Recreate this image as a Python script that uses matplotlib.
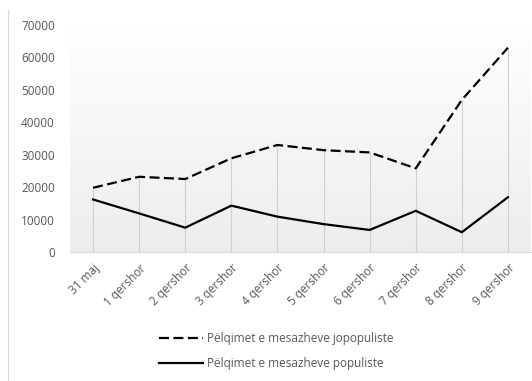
import numpy as np
import matplotlib
matplotlib.use("Agg")
import matplotlib.pyplot as plt
from matplotlib.lines import Line2D

plt.rcParams['font.family'] = ['Open Sans', 'DejaVu Sans']

dates = ["31 maj", "1 qershor", "2 qershor", "3 qershor", "4 qershor",
         "5 qershor", "6 qershor", "7 qershor", "8 qershor", "9 qershor"]
jopopuliste = [19800, 23200, 22500, 28900, 33000, 31400, 30700, 25800, 46900, 63000]
populiste = [16200, 11900, 7500, 14300, 10900, 8600, 6800, 12700, 6100, 16900]
yticks = [0, 10000, 20000, 30000, 40000, 50000, 60000, 70000]

label_jo = "Pëlqimet e mesazheve jopopuliste"
label_po = "Pëlqimet e mesazheve populiste"

fig = plt.figure(figsize=(5.32, 3.81), dpi=100)
ax = fig.add_axes([70 / 532, 1 - 252 / 381, 461 / 532, 227 / 381])

x = np.arange(len(dates))
ax.set_xlim(-0.5, len(dates) - 0.5)
ax.set_ylim(0, 70000)

# soft vertical gradient behind the plot
grad = np.linspace(0, 1, 256).reshape(-1, 1)
cmap = matplotlib.colors.LinearSegmentedColormap.from_list("bg", ["#ededed", "#ffffff"])
ax.imshow(grad, aspect="auto", cmap=cmap, origin="lower",
          extent=[-0.5, len(dates) - 0.5, 0, 70000], zorder=0)

# drop lines from the highest series down to the axis
tops = np.maximum(jopopuliste, populiste)
ax.vlines(x, 0, tops, color="#d0d0d0", lw=0.8, zorder=1)

ax.plot(x, jopopuliste, color="black", lw=1.6, ls=(0, (4.5, 2)), zorder=3)
ax.plot(x, populiste, color="black", lw=1.6, zorder=3)

for s in ["top", "right", "left"]:
    ax.spines[s].set_visible(False)
ax.spines["bottom"].set_color("#d9d9d9")
ax.spines["bottom"].set_linewidth(0.8)

ax.set_yticks(yticks)
ax.set_yticklabels([str(v) for v in yticks])
ax.set_xticks(x)
ax.set_xticklabels(dates, rotation=45, ha="right", rotation_mode="anchor")
ax.tick_params(axis="both", length=0, colors="#595959", labelsize=8.5)
ax.tick_params(axis="y", pad=11)
ax.tick_params(axis="x", pad=7)

# chart frame line on the left edge
fig.add_artist(Line2D([8 / 532, 8 / 532], [0, 1 - 10 / 381], color="#d9d9d9", lw=0.8))

handles = [Line2D([], [], color="black", lw=1.6, ls=(0, (4.5, 2))),
           Line2D([], [], color="black", lw=1.6)]
fig.legend(handles, [label_jo, label_po], loc="center", bbox_to_anchor=(276 / 532, 1 - 351 / 381),
           frameon=False, fontsize=8.5, handlelength=3.7, handletextpad=0.35,
           labelspacing=1.0, labelcolor="#595959")

fig.savefig("out.png", dpi=100)
